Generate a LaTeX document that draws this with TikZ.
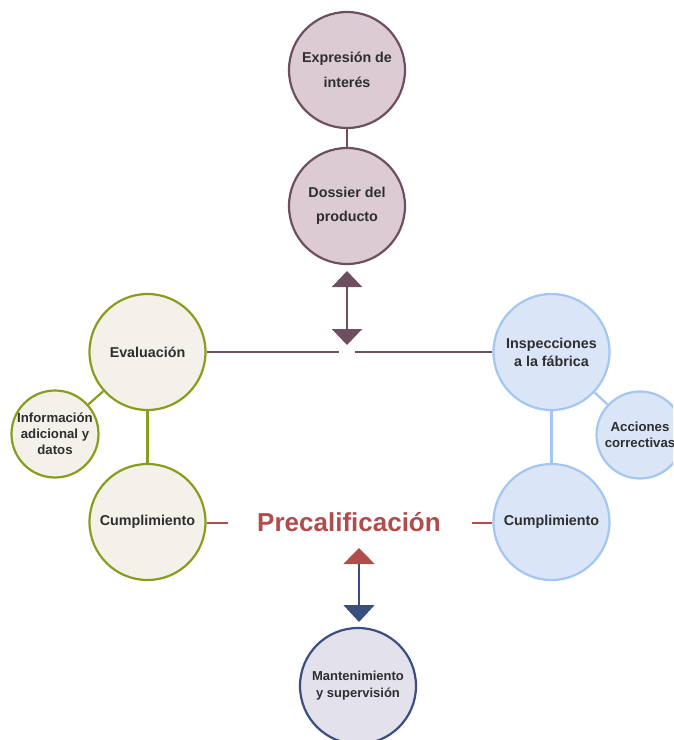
\documentclass[tikz,border=0pt]{standalone}
\usepackage{fontspec}
\setmainfont{Liberation Sans}
\usetikzlibrary{arrows.meta}
\definecolor{plumfill}{HTML}{DCCBD3}
\definecolor{plum}{HTML}{6D4F5F}
\definecolor{olive}{HTML}{8A9C1C}
\definecolor{cream}{HTML}{F4F1EA}
\definecolor{bluefill}{HTML}{DAE6F8}
\definecolor{blueline}{HTML}{A3C6F2}
\definecolor{grayfill}{HTML}{E3E2EC}
\definecolor{navy}{HTML}{3B4E80}
\definecolor{redc}{HTML}{B04C4C}
\definecolor{txt}{HTML}{2E2E2E}
\tikzset{
  bub/.style={circle, line width=2.2pt, inner sep=0pt, minimum size=116pt, align=center, text=txt, font=\fontsize{14.3}{18}\selectfont\bfseries},
  smallbub/.style={circle, line width=2.2pt, inner sep=0pt, minimum size=87pt, align=center, text=txt, font=\fontsize{13.2}{16}\selectfont\bfseries},
  topb/.style={bub, draw=plum, fill=plumfill, font=\fontsize{14.3}{24.5}\selectfont\bfseries},
  leftb/.style={draw=olive, fill=cream},
  rightb/.style={draw=blueline, fill=bluefill},
  botb/.style={draw=navy, fill=grayfill},
  conn/.style={line width=2.2pt},
}
\begin{document}
\begin{tikzpicture}[x=1pt,y=-1pt]
\useasboundingbox (0,0) rectangle (673,740);
\clip (0,0) rectangle (673,740);
% top
\node[topb] (expr) at (347,70) {Expresión de\\interés};
\node[topb] (doss) at (347,206) {Dossier del\\producto};
\draw[conn, plum] (expr) -- (doss);
\coordinate (a1) at (347,271);
\coordinate (a2) at (347,345);
\draw[conn, plum, {Triangle[length=16pt,width=30pt]}-{Triangle[length=16pt,width=30pt]}] (a1) -- (a2);
% left
\node[bub, leftb] (eval) at (147.5,352) {Evaluación};
\node[smallbub, leftb] (info) at (55,434) {Información\\adicional y\\datos};
\node[bub, leftb] (cumL) at (147.5,522) {Cumplimiento};
\draw[conn, olive] (eval) -- (info);
\draw[conn, olive] (eval) -- (cumL);
% right
\node[bub, rightb] (insp) at (551.5,352) {Inspecciones\\a la fábrica};
\node[smallbub, rightb] (acc) at (640,435) {Acciones\\correctivas};
\node[bub, rightb] (cumR) at (551.5,522) {Cumplimiento};
\draw[conn, blueline] (insp) -- (acc);
\draw[conn, blueline] (insp) -- (cumR);
% horizontal
\coordinate (g1) at (339,352);
\coordinate (g2) at (355,352);
\draw[conn, plum] (eval.east) -- (g1);
\draw[conn, plum] (g2) -- (insp.west);
% center
\node[text=redc, font=\fontsize{26}{30}\selectfont\bfseries] (pre) at (349,522) {Precalificación};
\coordinate (r1) at (228,523);
\coordinate (r2) at (472,523);
\draw[conn, redc] (cumL.east |- r1) -- (r1);
\draw[conn, redc] (r2) -- (cumR.west |- r2);
% bottom
\node[bub, botb, font=\fontsize{13}{17}\selectfont\bfseries] (mant) at (358,686) {Mantenimiento\\y supervisión};
\coordinate (b1) at (359,548);
\coordinate (b2) at (359,622);
\draw[line width=1.6pt, navy, {Triangle[length=16pt,width=31pt,color=redc]}-{Triangle[length=17pt,width=31pt]}] (b1) -- (b2);
\end{tikzpicture}
\end{document}
